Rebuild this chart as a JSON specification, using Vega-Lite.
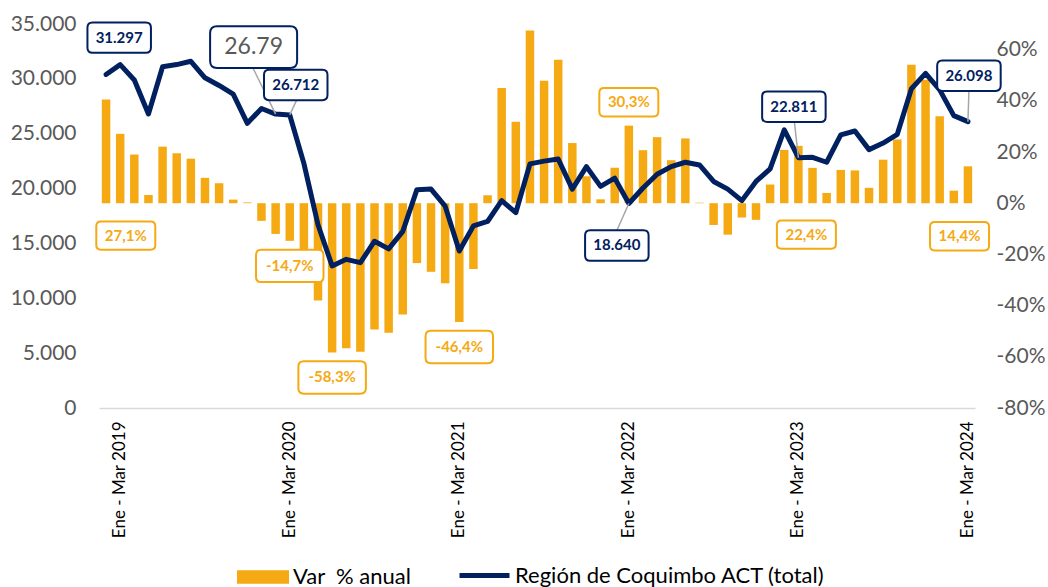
{
  "$schema": "https://vega.github.io/schema/vega-lite/v6.json",
  "width": 876,
  "height": 384,
  "autosize": {"type": "none"},
  "padding": {"left": 99, "top": 24, "right": 73, "bottom": 179},
  "config": {
    "view": {"stroke": null},
    "font": "Lato",
    "locale": {"number": {"decimal": ",", "thousands": ".", "grouping": [3], "currency": ["$", ""], "minus": "-"}},
    "axis": {"grid": false, "ticks": false, "title": null, "labelFont": "Lato"}
  },
  "data": {"values": [
    {"periodo": "Dic - Feb 2019", "valor": 30400, "pct": 0.405},
    {"periodo": "Ene - Mar 2019", "valor": 31297, "pct": 0.271},
    {"periodo": "Feb - Abr 2019", "valor": 29900, "pct": 0.190},
    {"periodo": "Mar - May 2019", "valor": 26800, "pct": 0.032},
    {"periodo": "Abr - Jun 2019", "valor": 31100, "pct": 0.221},
    {"periodo": "May - Jul 2019", "valor": 31300, "pct": 0.195},
    {"periodo": "Jun - Ago 2019", "valor": 31600, "pct": 0.174},
    {"periodo": "Jul - Sep 2019", "valor": 30100, "pct": 0.099},
    {"periodo": "Ago - Oct 2019", "valor": 29400, "pct": 0.078},
    {"periodo": "Sep - Nov 2019", "valor": 28600, "pct": 0.014},
    {"periodo": "Oct - Dic 2019", "valor": 25950, "pct": 0.003},
    {"periodo": "Nov - Ene 2020", "valor": 27300, "pct": -0.069},
    {"periodo": "Dic - Feb 2020", "valor": 26790, "pct": -0.120},
    {"periodo": "Ene - Mar 2020", "valor": 26712, "pct": -0.147},
    {"periodo": "Feb - Abr 2020", "valor": 22300, "pct": -0.254},
    {"periodo": "Mar - May 2020", "valor": 16700, "pct": -0.380},
    {"periodo": "Abr - Jun 2020", "valor": 12950, "pct": -0.583},
    {"periodo": "May - Jul 2020", "valor": 13550, "pct": -0.567},
    {"periodo": "Jun - Ago 2020", "valor": 13250, "pct": -0.580},
    {"periodo": "Jul - Sep 2020", "valor": 15200, "pct": -0.493},
    {"periodo": "Ago - Oct 2020", "valor": 14500, "pct": -0.506},
    {"periodo": "Sep - Nov 2020", "valor": 16100, "pct": -0.435},
    {"periodo": "Oct - Dic 2020", "valor": 19900, "pct": -0.234},
    {"periodo": "Nov - Ene 2021", "valor": 19950, "pct": -0.268},
    {"periodo": "Dic - Feb 2021", "valor": 18400, "pct": -0.313},
    {"periodo": "Ene - Mar 2021", "valor": 14310, "pct": -0.464},
    {"periodo": "Feb - Abr 2021", "valor": 16600, "pct": -0.257},
    {"periodo": "Mar - May 2021", "valor": 17000, "pct": 0.031},
    {"periodo": "Abr - Jun 2021", "valor": 18900, "pct": 0.450},
    {"periodo": "May - Jul 2021", "valor": 17800, "pct": 0.318},
    {"periodo": "Jun - Ago 2021", "valor": 22250, "pct": 0.675},
    {"periodo": "Jul - Sep 2021", "valor": 22500, "pct": 0.478},
    {"periodo": "Ago - Oct 2021", "valor": 22700, "pct": 0.560},
    {"periodo": "Sep - Nov 2021", "valor": 19950, "pct": 0.235},
    {"periodo": "Oct - Dic 2021", "valor": 22000, "pct": 0.105},
    {"periodo": "Nov - Ene 2022", "valor": 20200, "pct": 0.015},
    {"periodo": "Dic - Feb 2022", "valor": 20950, "pct": 0.138},
    {"periodo": "Ene - Mar 2022", "valor": 18640, "pct": 0.303},
    {"periodo": "Feb - Abr 2022", "valor": 20050, "pct": 0.207},
    {"periodo": "Mar - May 2022", "valor": 21300, "pct": 0.258},
    {"periodo": "Abr - Jun 2022", "valor": 22000, "pct": 0.168},
    {"periodo": "May - Jul 2022", "valor": 22400, "pct": 0.253},
    {"periodo": "Jun - Ago 2022", "valor": 22150, "pct": 0.002},
    {"periodo": "Jul - Sep 2022", "valor": 20650, "pct": -0.085},
    {"periodo": "Ago - Oct 2022", "valor": 19950, "pct": -0.123},
    {"periodo": "Sep - Nov 2022", "valor": 18900, "pct": -0.056},
    {"periodo": "Oct - Dic 2022", "valor": 20650, "pct": -0.065},
    {"periodo": "Nov - Ene 2023", "valor": 21800, "pct": 0.073},
    {"periodo": "Dic - Feb 2023", "valor": 25350, "pct": 0.208},
    {"periodo": "Ene - Mar 2023", "valor": 22811, "pct": 0.224},
    {"periodo": "Feb - Abr 2023", "valor": 22850, "pct": 0.138},
    {"periodo": "Mar - May 2023", "valor": 22400, "pct": 0.040},
    {"periodo": "Abr - Jun 2023", "valor": 24900, "pct": 0.130},
    {"periodo": "May - Jul 2023", "valor": 25250, "pct": 0.128},
    {"periodo": "Jun - Ago 2023", "valor": 23550, "pct": 0.060},
    {"periodo": "Jul - Sep 2023", "valor": 24150, "pct": 0.170},
    {"periodo": "Ago - Oct 2023", "valor": 24950, "pct": 0.249},
    {"periodo": "Sep - Nov 2023", "valor": 29100, "pct": 0.541},
    {"periodo": "Oct - Dic 2023", "valor": 30500, "pct": 0.482},
    {"periodo": "Nov - Ene 2024", "valor": 29000, "pct": 0.340},
    {"periodo": "Dic - Feb 2024", "valor": 26650, "pct": 0.049},
    {"periodo": "Ene - Mar 2024", "valor": 26098, "pct": 0.144}
  ]},
  "encoding": {
    "x": {
      "field": "periodo", "type": "ordinal", "sort": null,
      "scale": {"paddingInner": 0.4, "paddingOuter": 0.2},
      "axis": {
        "values": ["Ene - Mar 2019", "Ene - Mar 2020", "Ene - Mar 2021", "Ene - Mar 2022", "Ene - Mar 2023", "Ene - Mar 2024"],
        "labelAngle": -90, "labelFontSize": 17, "labelColor": "#000000", "labelPadding": 13,
        "ticks": false, "domainColor": "#D9D9D9", "domainWidth": 1.5, "title": null, "grid": false
      }
    }
  },
  "layer": [
    {
      "encoding": {
        "y": {
          "field": "pct", "type": "quantitative",
          "scale": {"domain": [-0.8, 0.7], "nice": false},
          "axis": {"orient": "right", "values": [-0.8, -0.6, -0.4, -0.2, 0, 0.2, 0.4, 0.6], "format": ".0%", "labelFontSize": 21, "labelColor": "#595959", "labelPadding": 21, "domain": false, "ticks": false, "grid": false, "title": null}
        }
      },
      "layer": [
        {
          "mark": {"type": "bar"},
          "encoding": {
            "fill": {"datum": "Var\u00a0 % anual", "scale": {"range": ["#F5A913"]},
              "legend": {"orient": "none", "legendX": 138, "legendY": 527, "title": null, "symbolType": "M-1,-0.26H1V0.26H-1Z", "symbolSize": 2704, "symbolStrokeWidth": 0, "labelFontSize": 22, "labelFont": "Lato", "labelColor": "#000000", "labelOffset": 4, "labelLimit": 0, "padding": 0}}
          }
        },
        {
          "transform": [{"filter": "datum.periodo == 'Ene - Mar 2019'"}],
          "layer": [
            {"mark": {"type": "point", "shape": "M-0.84,-0.48H0.84Q1,-0.48 1,-0.32V0.32Q1,0.48 0.84,0.48H-0.84Q-1,0.48 -1,0.32V-0.32Q-1,-0.48 -0.84,-0.48Z", "size": 3481, "fill": "white", "stroke": "#F5A913", "strokeWidth": 2, "opacity": 1, "fillOpacity": 1, "xOffset": 5.6, "yOffset": 101.8}},
            {"mark": {"type": "text", "fontSize": 15, "fontWeight": "bold", "color": "#F5A913", "xOffset": 5.6, "yOffset": 101.8}, "encoding": {"text": {"field": "pct", "type": "quantitative", "format": ".1%"}}}
          ]
        },
        {
          "transform": [{"filter": "datum.periodo == 'Ene - Mar 2020' || datum.periodo == 'Abr - Jun 2020' || datum.periodo == 'Ene - Mar 2021'"}],
          "layer": [
            {"mark": {"type": "point", "shape": "M-0.84,-0.48H0.84Q1,-0.48 1,-0.32V0.32Q1,0.48 0.84,0.48H-0.84Q-1,0.48 -1,0.32V-0.32Q-1,-0.48 -0.84,-0.48Z", "size": 4556, "fill": "white", "stroke": "#F5A913", "strokeWidth": 2, "opacity": 1, "fillOpacity": 1, "yOffset": 25}},
            {"mark": {"type": "text", "fontSize": 15, "fontWeight": "bold", "color": "#F5A913", "yOffset": 25}, "encoding": {"text": {"field": "pct", "type": "quantitative", "format": ".1%"}}}
          ]
        },
        {
          "transform": [{"filter": "datum.periodo == 'Ene - Mar 2022'"}],
          "layer": [
            {"mark": {"type": "point", "shape": "M-0.84,-0.48H0.84Q1,-0.48 1,-0.32V0.32Q1,0.48 0.84,0.48H-0.84Q-1,0.48 -1,0.32V-0.32Q-1,-0.48 -0.84,-0.48Z", "size": 3481, "fill": "white", "stroke": "#F5A913", "strokeWidth": 2, "opacity": 1, "fillOpacity": 1, "yOffset": -23.4}},
            {"mark": {"type": "text", "fontSize": 15, "fontWeight": "bold", "color": "#F5A913", "yOffset": -23.4}, "encoding": {"text": {"field": "pct", "type": "quantitative", "format": ".1%"}}}
          ]
        },
        {
          "transform": [{"filter": "datum.periodo == 'Ene - Mar 2023'"}],
          "layer": [
            {"mark": {"type": "point", "shape": "M-0.84,-0.48H0.84Q1,-0.48 1,-0.32V0.32Q1,0.48 0.84,0.48H-0.84Q-1,0.48 -1,0.32V-0.32Q-1,-0.48 -0.84,-0.48Z", "size": 3481, "fill": "white", "stroke": "#F5A913", "strokeWidth": 2, "opacity": 1, "fillOpacity": 1, "xOffset": 8, "yOffset": 88.7}},
            {"mark": {"type": "text", "fontSize": 15, "fontWeight": "bold", "color": "#F5A913", "xOffset": 8, "yOffset": 88.7}, "encoding": {"text": {"field": "pct", "type": "quantitative", "format": ".1%"}}}
          ]
        },
        {
          "transform": [{"filter": "datum.periodo == 'Ene - Mar 2024'"}],
          "layer": [
            {"mark": {"type": "point", "shape": "M-0.84,-0.48H0.84Q1,-0.48 1,-0.32V0.32Q1,0.48 0.84,0.48H-0.84Q-1,0.48 -1,0.32V-0.32Q-1,-0.48 -0.84,-0.48Z", "size": 3481, "fill": "white", "stroke": "#F5A913", "strokeWidth": 2, "opacity": 1, "fillOpacity": 1, "xOffset": -8.4, "yOffset": 69.9}},
            {"mark": {"type": "text", "fontSize": 15, "fontWeight": "bold", "color": "#F5A913", "xOffset": -8.4, "yOffset": 69.9}, "encoding": {"text": {"field": "pct", "type": "quantitative", "format": ".1%"}}}
          ]
        }
      ]
    },
    {
      "encoding": {
        "y": {
          "field": "valor", "type": "quantitative",
          "scale": {"domain": [0, 35000], "nice": false},
          "axis": {"orient": "left", "values": [0, 5000, 10000, 15000, 20000, 25000, 30000, 35000], "format": ",.0f", "labelFontSize": 21, "labelColor": "#595959", "labelPadding": 23, "domain": false, "ticks": false, "grid": false, "title": null}
        }
      },
      "layer": [
        {
          "mark": {"type": "line", "strokeWidth": 5, "strokeJoin": "round", "strokeCap": "round"},
          "encoding": {
            "stroke": {"datum": "Región de Coquimbo ACT (total)", "scale": {"range": ["#002060"]},
              "legend": {"orient": "none", "legendX": 358, "legendY": 524, "title": null, "symbolType": "stroke", "symbolSize": 2500, "symbolStrokeWidth": 5, "labelFontSize": 22, "labelFont": "Lato", "labelColor": "#000000", "labelOffset": 3, "labelLimit": 0, "padding": 0}}
          }
        },
        {
          "transform": [{"filter": "datum.periodo == 'Dic - Feb 2020'"}],
          "layer": [
            {"mark": {"type": "rule", "color": "#A6A6A6", "strokeWidth": 1.5, "x2Offset": -22.6, "y2Offset": -46}, "encoding": {"x2": {"field": "periodo"}, "y2": {"field": "valor"}}},
            {"mark": {"type": "point", "shape": "M-0.84,-0.48H0.84Q1,-0.48 1,-0.32V0.32Q1,0.48 0.84,0.48H-0.84Q-1,0.48 -1,0.32V-0.32Q-1,-0.48 -0.84,-0.48Z", "size": 7569, "fill": "white", "stroke": "#002060", "strokeWidth": 2, "opacity": 1, "fillOpacity": 1, "xOffset": -22, "yOffset": -67}},
            {"mark": {"type": "text", "fontSize": 23, "color": "#595959", "xOffset": -22, "yOffset": -67, "text": "26.79"}}
          ]
        },
        {
          "transform": [{"filter": "datum.periodo == 'Ene - Mar 2019'"}],
          "layer": [
            {"mark": {"type": "point", "shape": "M-0.84,-0.48H0.84Q1,-0.48 1,-0.32V0.32Q1,0.48 0.84,0.48H-0.84Q-1,0.48 -1,0.32V-0.32Q-1,-0.48 -0.84,-0.48Z", "size": 4032, "fill": "white", "stroke": "#002060", "strokeWidth": 2, "opacity": 1, "fillOpacity": 1, "xOffset": -1, "yOffset": -27}},
            {"mark": {"type": "text", "fontSize": 15, "fontWeight": "bold", "color": "#002060", "xOffset": -1, "yOffset": -27}, "encoding": {"text": {"field": "valor", "type": "quantitative", "format": ",.0f"}}}
          ]
        },
        {
          "transform": [{"filter": "datum.periodo == 'Ene - Mar 2020'"}],
          "layer": [
            {"mark": {"type": "rule", "color": "#A6A6A6", "strokeWidth": 1.5, "x2Offset": 7, "y2Offset": -15}, "encoding": {"x2": {"field": "periodo"}, "y2": {"field": "valor"}}},
            {"mark": {"type": "point", "shape": "M-0.84,-0.48H0.84Q1,-0.48 1,-0.32V0.32Q1,0.48 0.84,0.48H-0.84Q-1,0.48 -1,0.32V-0.32Q-1,-0.48 -0.84,-0.48Z", "size": 4032, "fill": "white", "stroke": "#002060", "strokeWidth": 2, "opacity": 1, "fillOpacity": 1, "xOffset": 6, "yOffset": -30}},
            {"mark": {"type": "text", "fontSize": 15, "fontWeight": "bold", "color": "#002060", "xOffset": 6, "yOffset": -30}, "encoding": {"text": {"field": "valor", "type": "quantitative", "format": ",.0f"}}}
          ]
        },
        {
          "transform": [{"filter": "datum.periodo == 'Ene - Mar 2022'"}],
          "layer": [
            {"mark": {"type": "rule", "color": "#A6A6A6", "strokeWidth": 1.5, "x2Offset": -12, "y2Offset": 27}, "encoding": {"x2": {"field": "periodo"}, "y2": {"field": "valor"}}},
            {"mark": {"type": "point", "shape": "M-0.84,-0.48H0.84Q1,-0.48 1,-0.32V0.32Q1,0.48 0.84,0.48H-0.84Q-1,0.48 -1,0.32V-0.32Q-1,-0.48 -0.84,-0.48Z", "size": 4032, "fill": "white", "stroke": "#002060", "strokeWidth": 2, "opacity": 1, "fillOpacity": 1, "xOffset": -12, "yOffset": 42}},
            {"mark": {"type": "text", "fontSize": 15, "fontWeight": "bold", "color": "#002060", "xOffset": -12, "yOffset": 42}, "encoding": {"text": {"field": "valor", "type": "quantitative", "format": ",.0f"}}}
          ]
        },
        {
          "transform": [{"filter": "datum.periodo == 'Ene - Mar 2023'"}],
          "layer": [
            {"mark": {"type": "rule", "color": "#A6A6A6", "strokeWidth": 1.5, "x2Offset": -4, "y2Offset": -36}, "encoding": {"x2": {"field": "periodo"}, "y2": {"field": "valor"}}},
            {"mark": {"type": "point", "shape": "M-0.84,-0.48H0.84Q1,-0.48 1,-0.32V0.32Q1,0.48 0.84,0.48H-0.84Q-1,0.48 -1,0.32V-0.32Q-1,-0.48 -0.84,-0.48Z", "size": 4032, "fill": "white", "stroke": "#002060", "strokeWidth": 2, "opacity": 1, "fillOpacity": 1, "xOffset": -4.5, "yOffset": -51}},
            {"mark": {"type": "text", "fontSize": 15, "fontWeight": "bold", "color": "#002060", "xOffset": -4.5, "yOffset": -51}, "encoding": {"text": {"field": "valor", "type": "quantitative", "format": ",.0f"}}}
          ]
        },
        {
          "transform": [{"filter": "datum.periodo == 'Ene - Mar 2024'"}],
          "layer": [
            {"mark": {"type": "rule", "color": "#A6A6A6", "strokeWidth": 1.5, "x2Offset": 1, "y2Offset": -31}, "encoding": {"x2": {"field": "periodo"}, "y2": {"field": "valor"}}},
            {"mark": {"type": "point", "shape": "M-0.84,-0.48H0.84Q1,-0.48 1,-0.32V0.32Q1,0.48 0.84,0.48H-0.84Q-1,0.48 -1,0.32V-0.32Q-1,-0.48 -0.84,-0.48Z", "size": 4032, "fill": "white", "stroke": "#002060", "strokeWidth": 2, "opacity": 1, "fillOpacity": 1, "xOffset": 1, "yOffset": -46}},
            {"mark": {"type": "text", "fontSize": 15, "fontWeight": "bold", "color": "#002060", "xOffset": 1, "yOffset": -46}, "encoding": {"text": {"field": "valor", "type": "quantitative", "format": ",.0f"}}}
          ]
        }
      ]
    }
  ],
  "resolve": {"scale": {"y": "independent"}}
}
